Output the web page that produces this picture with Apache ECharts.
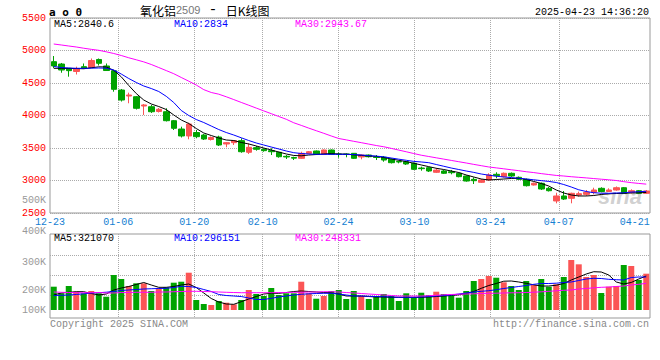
<!DOCTYPE html>
<html><head><meta charset="utf-8">
<script src="https://cdn.jsdelivr.net/npm/echarts@6/dist/echarts.min.js"></script>
<style>html,body{margin:0;padding:0;background:#fff}#c{width:660px;height:360px}</style>
</head><body><div id="c"></div>
<script>
const dates = ['12-23','12-24','12-25','12-26','12-27','12-30','12-31','01-02','01-03',
'01-06','01-07','01-08','01-09','01-10','01-13','01-14','01-15','01-16','01-17',
'01-20','01-21','01-22','01-23','01-24','01-27','02-05','02-06','02-07',
'02-10','02-11','02-12','02-13','02-14','02-17','02-18','02-19','02-20','02-21',
'02-24','02-25','02-26','02-27','02-28','03-03','03-04','03-05','03-06','03-07',
'03-10','03-11','03-12','03-13','03-14','03-17','03-18','03-19','03-20','03-21',
'03-24','03-25','03-26','03-27','03-28','03-31','04-01','04-02','04-03',
'04-07','04-08','04-09','04-10','04-11','04-14','04-15','04-16','04-17','04-18',
'04-21','04-22','04-23'];
const axisLabelDates = ['12-23','01-06','01-20','02-10','02-24','03-10','03-24','04-07','04-21'];
const gridLineDates = ['01-06','01-20','02-10','02-24','03-10','03-24','04-07'];

const open = [4828,4792,4726,4677,4751,4738,4862,4762,4689,4392,4300,4289,4146,4135,4062,4058,3920,3792,3685,3738,
3700,3631,3669,3562,3582,3613,3434,3505,3480,3459,3434,3372,3354,3341,3418,3454,3403,3469,3408,3408,
3418,3362,3392,3362,3357,3326,3292,3289,3265,3192,3197,3126,3146,3135,3111,3069,3018,2972,3008,3095,
3059,3111,3049,3018,2931,2957,2880,2685,2762,2726,2777,2787,2818,2880,2831,2854,2889,2818,2843,2803];
const close = [4762,4700,4690,4715,4726,4846,4803,4692,4403,4238,4315,4111,4162,4058,4095,3920,3803,3685,3869,3674,
3638,3662,3546,3582,3613,3443,3511,3480,3459,3443,3366,3362,3344,3418,3443,3403,3469,3403,3400,3400,
3341,3392,3366,3354,3315,3274,3285,3254,3172,3182,3146,3160,3111,3120,3059,2992,2997,3008,3085,3074,
3111,3069,3018,2920,2957,2869,2843,2762,2715,2803,2797,2818,2854,2831,2854,2889,2803,2843,2803,2838];
const low = [4731,4658,4597,4631,4715,4731,4769,4685,4366,4215,4188,4092,4008,4039,4046,3908,3777,3662,3634,3650,
3623,3615,3531,3511,3546,3427,3408,3459,3443,3392,3351,3331,3315,3331,3408,3392,3392,3392,3351,3357,
3331,3326,3354,3315,3289,3262,3264,3239,3162,3151,3131,3115,3100,3095,3049,2982,2946,2962,2997,3034,
3046,3054,3008,2908,2923,2854,2831,2649,2700,2649,2751,2762,2787,2818,2823,2843,2800,2800,2792,2792];
const high = [4915,4808,4731,4751,4800,4877,4877,4800,4700,4408,4351,4300,4177,4162,4115,4111,3931,3828,3889,3777,
3715,3677,3689,3592,3623,3649,3572,3531,3495,3495,3443,3392,3366,3443,3454,3461,3477,3477,3431,3418,
3423,3400,3400,3392,3377,3339,3305,3300,3277,3213,3208,3192,3162,3162,3123,3077,3049,3023,3111,3126,
3123,3123,3062,3031,2969,2969,2900,2812,2838,2812,2828,2854,2889,2895,2880,2908,2900,2864,2854,2854];

const ma5 = [4726,4726,4723,4723,4719,4734,4749,4746,4695,4595,4462,4338,4238,4177,4138,4092,4008,3931,3877,3800,
3731,3692,3654,3623,3615,3585,3562,3531,3500,3469,3438,3408,3385,3380,3392,3400,3408,3414,3408,3405,
3395,3386,3377,3371,3354,3331,3311,3291,3265,3239,3213,3188,3169,3146,3123,3085,3054,3023,3008,3015,
3023,3031,3034,3015,2985,2954,2915,2854,2808,2777,2762,2762,2769,2785,2795,2800,2803,2808,2811,2815];
const ma10 = [4754,4738,4731,4726,4726,4728,4731,4728,4700,4638,4569,4508,4454,4415,4369,4295,4200,4077,4000,3938,
3892,3838,3784,3738,3700,3657,3615,3577,3546,3515,3485,3454,3428,3415,3408,3403,3403,3403,3403,3403,
3400,3392,3383,3375,3364,3346,3328,3311,3294,3285,3274,3246,3219,3192,3169,3146,3125,3100,3082,3066,
3054,3045,3035,3023,3011,2998,2986,2969,2938,2900,2857,2831,2812,2805,2803,2808,2811,2822,2828,2834];
const ma30 = [5100,5085,5069,5054,5035,5018,5003,4980,4954,4923,4888,4857,4825,4785,4738,4691,4643,4585,4528,4469,
4398,4354,4328,4288,4245,4201,4158,4114,4071,4028,3985,3942,3888,3848,3806,3766,3726,3685,3646,3625,
3603,3582,3560,3538,3519,3494,3468,3442,3415,3389,3369,3349,3329,3309,3289,3269,3248,3228,3208,3194,
3180,3165,3151,3135,3122,3106,3092,3078,3069,3058,3049,3040,3030,3020,3011,3000,2982,2967,2955,2944];

const volume = [212800,189300,215200,195000,189300,197500,189300,177200,254300,240100,
215200,224800,224800,197500,207100,210600,227000,230500,262500,165500,
151300,147700,161900,155900,150200,165500,201000,186800,179700,208100,
183300,189300,189300,230500,189300,170100,179700,197500,201000,169000,
197500,179700,169000,179700,186800,179700,161900,189300,175100,191400,
183300,195000,186800,179700,173700,197500,233000,240100,250800,244700,
228400,215200,201000,233000,218800,240100,212800,221300,247200,307600,
292300,247200,254300,190400,212800,215200,289900,286300,236600,259000];
const volMa5 = [183300,190400,192900,195000,195000,188600,183300,186800,201000,208100,
213500,220600,227700,218800,210600,210600,213500,218800,222400,209900,
190400,170800,158400,151300,150200,159500,169000,177900,186800,189300,
189300,192100,195700,197500,195700,193900,192100,191400,186800,179700,
179700,179700,177900,176200,176200,175100,175100,175100,175100,175100,
176200,177900,179700,181500,184000,188600,195700,207100,217000,224100,
232300,233000,229500,224800,219500,215200,215200,218100,224100,236600,
247200,257900,266000,265000,254300,229500,222400,227700,240100,250800];
const volMa10 = [181500,182200,183300,185100,187500,190400,191400,193200,195700,199300,
201000,202800,204600,205600,206400,207100,209900,214200,213500,209900,
202800,195700,185100,181500,179700,177900,172600,167300,167300,171500,
176200,179700,183300,185800,187500,188600,189300,189300,186800,183300,
179700,179700,178700,177900,177200,176200,175400,175100,175100,176200,
177900,179700,181500,183300,186800,190400,193900,196400,198500,202100,
206400,209900,213500,217000,221300,224100,224100,225200,227700,229500,
234800,240100,242600,241900,239000,237600,236600,245400,247200,247200];
const volMa30 = [193900,192900,192100,191400,191400,191400,192100,190400,190400,192100,
192100,192900,192900,192900,193900,193900,195000,195700,196400,196400,
195700,195000,193900,192900,192100,191400,191400,191400,191400,191400,
192100,192100,192900,192900,193900,193900,195000,195000,193900,192100,
190400,188600,186800,185100,183300,181500,179700,179700,179700,179700,
180800,182200,184000,185100,186100,186800,187500,188600,189300,189700,
190400,191100,191400,192100,193200,194600,196400,198200,200000,201000,
204600,206400,208800,210600,211700,213500,215200,218800,221300,224800];

const priceTicks = [2500, 5500, 500];
const volTicks = [100000, 500000, 100000];
const headerLeft = 'a o 0';
const titleName = '氧化铝', titleCode = '2509', titleSuffix = '日K线图';
const timestamp = '2025-04-23 14:36:20';
const maTexts = ['MA5:2840.6', 'MA10:2834', 'MA30:2943.67'];
const volMaTexts = ['MA5:321070', 'MA10:296151', 'MA30:248331'];
const copyright = 'Copyright 2025 SINA.COM';
const siteUrl = 'http://finance.sina.com.cn';

const UP = '#fb5555', DOWN = '#00a300';
const MONO = 'Liberation Mono';
const GRIDC = '#aaaaaa';
const chart = echarts.init(document.getElementById('c'), null, {renderer: 'svg', width: 660, height: 360});
const candleData = dates.map((d, i) => [open[i], close[i], low[i], high[i]]);
const volData = volume.map((v, i) => ({value: v, itemStyle: {color: close[i] >= open[i] ? UP : DOWN}}));
const isLabel = (i) => axisLabelDates.indexOf(dates[i]) >= 0;
const isGrid = (i) => gridLineDates.indexOf(dates[i]) >= 0;

function txt(text, x, y, color, extra) {
  return {type: 'text', x: x, y: y, z: 10, style: Object.assign({
    text: text, fill: color, fontFamily: MONO, fontSize: 10,
    align: 'left', verticalAlign: 'middle', textAlign: 'left', textVerticalAlign: 'middle'}, extra || {})};
}
const volShift = {500000: 12, 400000: 6, 300000: 0, 200000: 0, 100000: 16};
const volRich = {};
[0, 6, 12, 16].forEach(p => { volRich['s' + p] = {color: '#999', fontFamily: MONO, fontSize: 10, padding: [0, 0, p, 0]}; });

const lineS = (data, color, xi, yi) => ({type: 'line', data: data, xAxisIndex: xi, yAxisIndex: yi, symbol: 'none',
  silent: true, lineStyle: {color: color, width: 1}, itemStyle: {color: color}, z: 3});

chart.setOption({
  animation: false,
  backgroundColor: '#fff',
  grid: [
    {left: 50, top: 18, width: 600, height: 195, show: true, borderColor: '#999', borderWidth: 1},
    {left: 50, top: 234, width: 600, height: 84, show: true, borderColor: '#999', borderWidth: 1},
    {left: 50, top: 234, width: 600, height: 76},
    {left: 50, top: 255, width: 600, height: 40},
    {left: 50, top: 206, width: 600, height: 112}
  ],
  xAxis: [
    {gridIndex: 0, type: 'category', data: dates, boundaryGap: true, show: false},
    {gridIndex: 0, type: 'category', data: dates, boundaryGap: false, position: 'bottom',
      axisLine: {show: false}, axisTick: {show: false},
      axisLabel: {interval: (i) => isLabel(i), color: '#1480d2', fontFamily: MONO, fontSize: 10, margin: 4},
      splitLine: {show: true, interval: (i) => isGrid(i), lineStyle: {color: GRIDC, type: 'dotted', width: 1}}},
    {gridIndex: 2, type: 'category', data: dates, boundaryGap: true, show: false},
    {gridIndex: 1, type: 'category', data: dates, boundaryGap: false,
      axisLine: {show: false}, axisTick: {show: false}, axisLabel: {show: false},
      splitLine: {show: true, interval: (i) => isGrid(i), lineStyle: {color: GRIDC, type: 'dotted', width: 1}}},
    {gridIndex: 3, type: 'category', data: dates, show: false},
    {gridIndex: 4, type: 'category', data: dates, show: false}
  ],
  yAxis: [
    {gridIndex: 0, type: 'value', min: priceTicks[0], max: priceTicks[1], interval: priceTicks[2],
      axisLine: {show: false}, axisTick: {show: false},
      axisLabel: {color: '#ff0000', fontFamily: MONO, fontSize: 10, margin: 4, formatter: (v) => String(v)},
      splitLine: {lineStyle: {color: GRIDC, type: 'dotted', width: 1}}},
    {gridIndex: 2, type: 'value', min: 130000, max: 400000, startValue: 130000, show: false},
    {gridIndex: 1, type: 'value', min: 0, max: 1, show: false},
    {gridIndex: 3, type: 'value', min: 0, max: 2, interval: 1, axisLine: {show: false}, axisTick: {show: false},
      axisLabel: {show: false}, splitLine: {lineStyle: {color: GRIDC, type: 'dotted', width: 1}}},
    {gridIndex: 4, type: 'value', min: volTicks[0], max: volTicks[1], interval: volTicks[2],
      axisLine: {show: false}, axisTick: {show: false}, splitLine: {show: false},
      axisLabel: {margin: 4, color: '#999', fontFamily: MONO, fontSize: 10, rich: volRich,
        formatter: (v) => '{s' + volShift[v] + '|' + (v / 1000) + 'K}'}}
  ],
  graphic: [
    {type: 'text', x: 598, y: 196, z: 0, style: {text: 'sina', fill: 'rgba(150,150,150,0.45)', fontFamily: 'Liberation Sans',
      fontSize: 22, fontWeight: 'bold', fontStyle: 'italic', align: 'left', verticalAlign: 'middle', textAlign: 'left', textVerticalAlign: 'middle'}},
    txt(headerLeft, 49, 12, '#000', {fontFamily: 'DejaVu Sans Mono', fontWeight: 'bold', fontSize: 11}),
    {type: 'text', x: 140, y: 10, z: 10, style: {
      text: '{a|' + titleName + '}{b|' + titleCode + '}{c| - }{a|' + titleSuffix + '}',
      align: 'left', verticalAlign: 'middle', textAlign: 'left', textVerticalAlign: 'middle',
      rich: {a: {fontFamily: 'Noto Sans CJK SC', fontSize: 12, fill: '#000', color: '#000'},
             b: {fontFamily: 'Liberation Sans', fontSize: 11, fill: '#777', color: '#777'},
             c: {fontFamily: MONO, fontSize: 14, fill: '#000', color: '#000'}}}},
    txt(timestamp, 649, 12, '#000', {align: 'right', textAlign: 'right'}),
    txt(maTexts[0], 54, 24, '#000'),
    txt(maTexts[1], 174, 24, '#0000ff'),
    txt(maTexts[2], 295, 24, '#ff00ff'),
    txt(volMaTexts[0], 54, 238, '#000'),
    txt(volMaTexts[1], 174, 238, '#0000ff'),
    txt(volMaTexts[2], 295, 238, '#ff00ff'),
    txt(copyright, 50, 324, '#888'),
    txt(siteUrl, 649, 324, '#888', {align: 'right', textAlign: 'right'})
  ],
  series: [
    {type: 'candlestick', data: candleData, xAxisIndex: 0, yAxisIndex: 0, barWidth: 6, z: 2,
      itemStyle: {color: UP, color0: DOWN, borderColor: UP, borderColor0: DOWN, borderWidth: 1}},
    lineS(ma5, '#000000', 0, 0),
    lineS(ma10, '#0000ff', 0, 0),
    lineS(ma30, '#ff00ff', 0, 0),
    {type: 'bar', data: volData, xAxisIndex: 2, yAxisIndex: 1, barWidth: 6, clip: true, z: 2},
    lineS(volMa5, '#000000', 2, 1),
    lineS(volMa10, '#0000ff', 2, 1),
    lineS(volMa30, '#ff00ff', 2, 1)
  ]
});
</script>
</body></html>
